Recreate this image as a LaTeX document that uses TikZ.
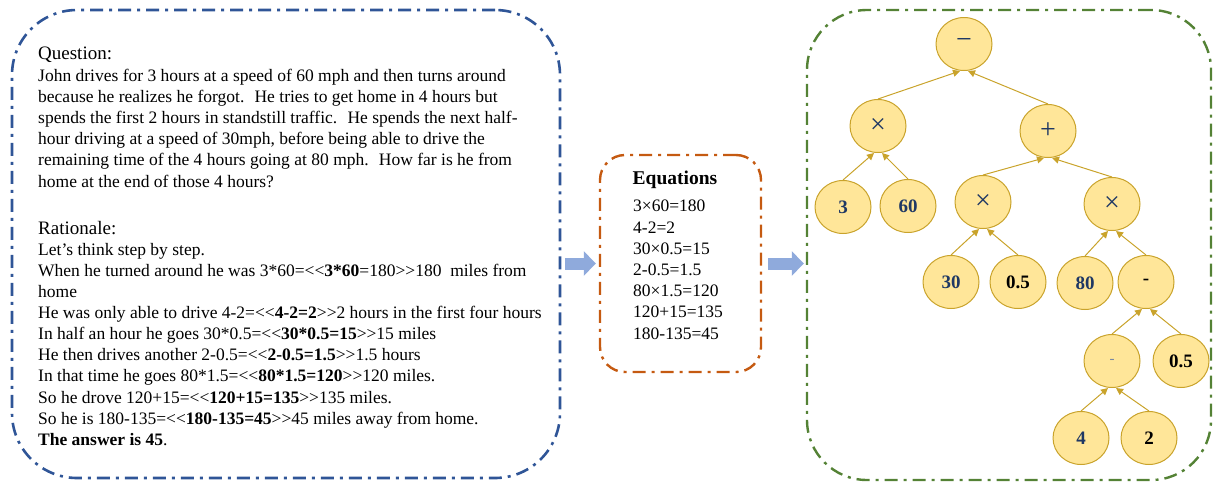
\documentclass[tikz,border=0pt]{standalone}
\usepackage{fontspec}
\setmainfont{Liberation Serif}
\usetikzlibrary{shapes.geometric,arrows.meta}

\definecolor{qblue}{HTML}{2F5597}
\definecolor{eqorange}{HTML}{C55A11}
\definecolor{treegreen}{HTML}{548235}
\definecolor{arrowblue}{HTML}{8FAADC}
\definecolor{nodefill}{HTML}{FFE699}
\definecolor{nodeline}{HTML}{C9A32B}
\definecolor{navy}{HTML}{1F3864}

\newcommand\lcalc{\mbox{<}\mbox{<}}
\newcommand\rcalc{\mbox{>}\mbox{>}}

\tikzset{
    dashframe/.style={line width=2.6pt, rounded corners=#1,
        dash pattern=on 13pt off 6pt on 3pt off 6pt},
    treenode/.style={ellipse, draw=nodeline, fill=nodefill, line width=1pt,
        minimum width=56pt, minimum height=53pt, inner sep=0pt},
    optext/.style={font=\fontsize{28}{28}\selectfont, text=navy},
    numtext/.style={font=\fontsize{19}{19}\selectfont\bfseries},
    treeedge/.style={draw=nodeline, line width=1pt, -{Triangle[length=7pt,width=7pt]}},
    blockarrow/.style={draw=arrowblue, line width=12pt, -{Triangle[length=12pt,width=24pt]}},
}

\begin{document}
\begin{tikzpicture}[x=1pt,y=-1pt]
    \useasboundingbox (0,0) rectangle (1215,490);

    % Frames
    \node[dashframe=65pt, draw=qblue, minimum width=548pt, minimum height=468pt] (qbox) at (286,244) {};
    \node[dashframe=25pt, draw=eqorange, line width=2.4pt, minimum width=161pt, minimum height=217pt] (eqbox) at (680.5,263.5) {};
    \node[dashframe=60pt, draw=treegreen, line width=2.4pt, minimum width=404pt, minimum height=470pt] (treebox) at (1009,245) {};

    % Question and rationale
    \node[anchor=west, inner sep=0pt, font=\fontsize{19}{21}\selectfont] (qhead) at (38,55) {Question:};
    \node[anchor=north west, inner sep=0pt, align=left, font=\fontsize{17.5}{21.1}\selectfont] (qtext) at (38,69) {%
        John drives for 3 hours at a speed of 60 mph and then turns around\\
        because he realizes he forgot.~ He tries to get home in 4 hours but\\
        spends the first 2 hours in standstill traffic.~ He spends the next half-\\
        hour driving at a speed of 30mph, before being able to drive the\\
        remaining time of the 4 hours going at 80 mph.~ How far is he from\\
        home at the end of those 4 hours?};
    \node[anchor=west, inner sep=0pt, font=\fontsize{19}{21}\selectfont] (rhead) at (38,228) {Rationale:};
    \node[anchor=north west, inner sep=0pt, align=left, font=\fontsize{17.5}{21.1}\selectfont] (rtext) at (38,243) {%
        Let’s think step by step.\\
        When he turned around he was 3*60=\lcalc\textbf{3*60}=180\rcalc180~ miles from\\
        home\\
        He was only able to drive 4-2=\lcalc\textbf{4-2=2}\rcalc2 hours in the first four hours\\
        In half an hour he goes 30*0.5=\lcalc\textbf{30*0.5=15}\rcalc15 miles\\
        He then drives another 2-0.5=\lcalc\textbf{2-0.5=1.5}\rcalc1.5 hours\\
        In that time he goes 80*1.5=\lcalc\textbf{80*1.5=120}\rcalc120 miles.\\
        So he drove 120+15=\lcalc\textbf{120+15=135}\rcalc135 miles.\\
        So he is 180-135=\lcalc\textbf{180-135=45}\rcalc45 miles away from home.\\
        \textbf{The answer is 45}.};

    % Equations
    \node[font=\fontsize{19.5}{19.5}\selectfont\bfseries] (eqhead) at (675,180) {Equations};
    \node[anchor=north west, inner sep=0pt, align=left, font=\fontsize{17.5}{21.2}\selectfont] (eqtext) at (633,200) {%
        3×60=180\\
        4-2=2\\
        30×0.5=15\\
        2-0.5=1.5\\
        80×1.5=120\\
        120+15=135\\
        180-135=45};

    % Block arrows
    \draw[blockarrow, shorten <=4pt, shorten >=3pt] (qbox.east |- eqbox.west) -- (eqbox.west);
    \draw[blockarrow, shorten <=6pt, shorten >=2pt] (eqbox.east) -- (treebox.west |- eqbox.east);

    % Expression tree
    \node[treenode, optext] (root) at (964,44) {−};
    \node[treenode, optext] (mulL) at (878,126) {×};
    \node[treenode, optext] (plus) at (1048,131) {+};
    \node[treenode, numtext, text=navy] (n3) at (843,207) {3};
    \node[treenode, numtext, text=navy] (n60) at (908,206) {60};
    \node[treenode, optext] (mulM) at (983,202) {×};
    \node[treenode, optext] (mulR) at (1112,204) {×};
    \node[treenode, numtext, text=navy] (n30) at (951,282) {30};
    \node[treenode, numtext] (n05a) at (1018,282) {0.5};
    \node[treenode, numtext, text=navy] (n80) at (1085,283) {80};
    \node[treenode, numtext] (subA) at (1146,282) {-};
    \node[treenode, font=\fontsize{15}{15}\selectfont, text=navy!60] (subB) at (1112,361) {-};
    \node[treenode, numtext] (n05b) at (1181,361) {0.5};
    \node[treenode, numtext, text=navy] (n4) at (1081,438) {4};
    \node[treenode, numtext] (n2) at (1149,438) {2};

    \foreach \c/\p/\s in {n3/mulL/-4, n60/mulL/4, mulL/root/-4, plus/root/4,
        mulM/plus/-4, mulR/plus/4, n30/mulM/-4, n05a/mulM/4, n80/mulR/-4,
        subA/mulR/4, subB/subA/-4, n05b/subA/4, n4/subB/-4, n2/subB/4}
        \draw[treeedge] (\c.north) -- ([xshift=\s pt]\p.south);
\end{tikzpicture}
\end{document}
